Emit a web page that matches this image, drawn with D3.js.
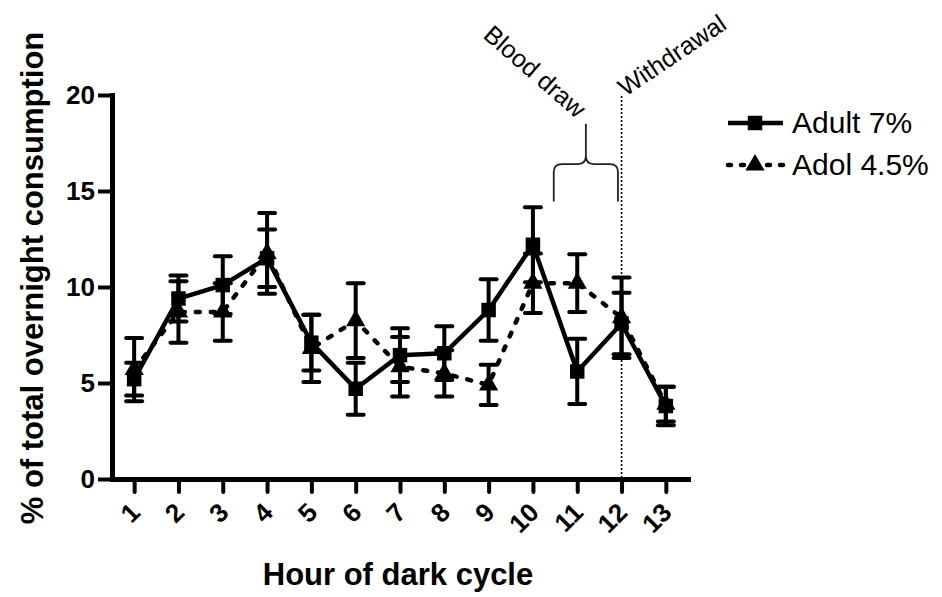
<!DOCTYPE html>
<html>
<head>
<meta charset="utf-8">
<script src="https://cdn.jsdelivr.net/npm/d3@7"></script>
<style>
  body { margin: 0; background: #fff; }
  svg text { font-family: Arial, "Liberation Sans", sans-serif; fill: #000; }
</style>
</head>
<body>
<div id="chart"></div>
<script>
// hours of the dark cycle
const hours = [1, 2, 3, 4, 5, 6, 7, 8, 9, 10, 11, 12, 13]

// Adult 7% (squares, solid line)
const adult = [5.2, 9.4, 10.1, 11.5, 7.1, 4.7, 6.45, 6.55, 8.8, 12.2, 5.6, 8.1, 3.8]
const adultSem = [0.85, 1.2, 1.5, 1.5, 1.45, 1.35, 1.4, 1.4, 1.6, 1.95, 1.7, 1.6, 1.0]

// Adol 4.5% (triangles, dashed line)
const adol = [5.7, 8.7, 8.7, 11.75, 6.8, 8.25, 5.85, 5.5, 4.9, 10.2, 10.2, 8.4, 3.9]
const adolSem = [1.65, 1.6, 1.5, 2.1, 1.75, 1.95, 1.55, 1.2, 1.05, 1.55, 1.5, 2.1, 0.9]

const yTicks = [0, 5, 10, 15, 20]
const seriesNames = ["Adult 7%", "Adol 4.5%"]

const width = 942, height = 597

const svg = d3.select("#chart")
  .append("svg")
  .attr("width", width)
  .attr("height", height)

const x = d3.scaleLinear().domain([0.5, 13.5]).range([112, 688])
const y = d3.scaleLinear().domain([0, 20]).range([479, 95])

// axes
const yAxis = svg.append("g")
  .attr("transform", "translate(112,0)")
  .call(d3.axisLeft(y).tickValues(yTicks).tickSize(14).tickSizeOuter(0).tickPadding(3))
yAxis.select(".domain").attr("stroke-width", 5).attr("stroke-linecap", "square")
yAxis.selectAll(".tick line").attr("stroke-width", 4)
yAxis.selectAll(".tick text")
  .style("font-size", "26px").style("font-weight", "bold")

const xAxis = svg.append("g")
  .attr("transform", "translate(0,479)")
  .call(d3.axisBottom(x).tickValues(hours).tickSize(13).tickSizeOuter(0).tickFormat(d3.format("d")))
xAxis.select(".domain").attr("stroke-width", 5).attr("stroke-linecap", "square")
xAxis.selectAll(".tick line").attr("stroke-width", 4).attr("stroke-linecap", "round")
xAxis.selectAll(".tick text")
  .attr("y", 0).attr("dy", 0)
  .attr("text-anchor", "end")
  .attr("transform", "translate(7,35) rotate(-45)")
  .style("font-size", "26px").style("font-weight", "bold")

// axis titles
svg.append("text")
  .attr("x", 398).attr("y", 585)
  .attr("text-anchor", "middle")
  .style("font-size", "31px").style("font-weight", "bold")
  .text("Hour of dark cycle")

svg.append("text")
  .attr("transform", "translate(43,278) rotate(-90)")
  .attr("text-anchor", "middle")
  .style("font-size", "31px").style("font-weight", "bold")
  .text("% of total overnight consumption")

// withdrawal line at hour 12
svg.append("line")
  .attr("x1", x(12)).attr("x2", x(12))
  .attr("y1", y(19.95)).attr("y2", y(0))
  .attr("stroke", "#000").attr("stroke-width", 1.6)
  .attr("stroke-dasharray", "2,2")

svg.append("text")
  .attr("transform", "translate(" + (x(12) + 4) + "," + (y(19.95) + 1) + ") rotate(-34)")
  .style("font-size", "25px")
  .text("Withdrawal")

// blood draw brace
const bl = x(10.47), br = x(11.92), bm = (bl + br) / 2
const bBot = y(14.45), bMid = y(16.4), bTop = y(18.5)
const r = 8
svg.append("path")
  .attr("d",
    "M" + bl + "," + bBot +
    " L" + bl + "," + (bMid + r) +
    " Q" + bl + "," + bMid + " " + (bl + r) + "," + bMid +
    " L" + (bm - r) + "," + bMid +
    " Q" + bm + "," + bMid + " " + bm + "," + (bMid - r) +
    " L" + bm + "," + bTop +
    " M" + bm + "," + (bMid - r) +
    " Q" + bm + "," + bMid + " " + (bm + r) + "," + bMid +
    " L" + (br - r) + "," + bMid +
    " Q" + br + "," + bMid + " " + br + "," + (bMid + r) +
    " L" + br + "," + bBot)
  .attr("fill", "none")
  .attr("stroke", "#222").attr("stroke-width", 1.8)

svg.append("text")
  .attr("transform", "translate(482,37) rotate(41)")
  .style("font-size", "25px")
  .text("Blood draw")

// series
const squareSym = d3.symbol().type(d3.symbolSquare).size(210)
const triSym = d3.symbol().type(d3.symbolTriangle).size(160)

function drawSeries(vals, sems, dashed, sym) {
  const pts = hours.map((h, i) => ({ h: h, v: vals[i], s: sems[i] }))
  const g = svg.append("g")

  // error bars
  const eb = g.selectAll(".err").data(pts).enter().append("g")
  eb.append("line")
    .attr("x1", d => x(d.h)).attr("x2", d => x(d.h))
    .attr("y1", d => y(d.v - d.s)).attr("y2", d => y(d.v + d.s))
    .attr("stroke", "#000").attr("stroke-width", 4)
  eb.append("line")
    .attr("x1", d => x(d.h) - 8).attr("x2", d => x(d.h) + 8)
    .attr("y1", d => y(d.v + d.s)).attr("y2", d => y(d.v + d.s))
    .attr("stroke", "#000").attr("stroke-width", 4).attr("stroke-linecap", "round")
  eb.append("line")
    .attr("x1", d => x(d.h) - 8).attr("x2", d => x(d.h) + 8)
    .attr("y1", d => y(d.v - d.s)).attr("y2", d => y(d.v - d.s))
    .attr("stroke", "#000").attr("stroke-width", 4).attr("stroke-linecap", "round")

  const line = d3.line().x(d => x(d.h)).y(d => y(d.v))
  g.append("path")
    .datum(pts)
    .attr("d", line)
    .attr("fill", "none")
    .attr("stroke", "#000")
    .attr("stroke-width", 4.5)
    .attr("stroke-linecap", dashed ? "round" : "butt")
    .attr("stroke-dasharray", dashed ? "4,11" : null)

  g.selectAll(".mk").data(pts).enter().append("path")
    .attr("d", sym)
    .attr("transform", d => "translate(" + x(d.h) + "," + y(d.v) + ")")
    .attr("fill", "#000")
}

drawSeries(adol, adolSem, true, triSym)
drawSeries(adult, adultSem, false, squareSym)

// legend
const legend = svg.append("g")
const legRows = [
  { name: seriesNames[0], dashed: false, sym: squareSym, ly: 123 },
  { name: seriesNames[1], dashed: true, sym: triSym, ly: 165 }
]
legRows.forEach(row => {
  legend.append("line")
    .attr("x1", 728).attr("x2", 783)
    .attr("y1", row.ly).attr("y2", row.ly)
    .attr("stroke", "#000").attr("stroke-width", 4.5)
    .attr("stroke-linecap", row.dashed ? "round" : "butt")
    .attr("stroke-dasharray", row.dashed ? "3,10" : null)
  legend.append("path")
    .attr("d", row.sym)
    .attr("transform", "translate(755," + row.ly + ")")
    .attr("fill", "#000")
  legend.append("text")
    .attr("x", 792).attr("y", row.ly + 10)
    .style("font-size", "30px")
    .text(row.name)
})
</script>
</body>
</html>
